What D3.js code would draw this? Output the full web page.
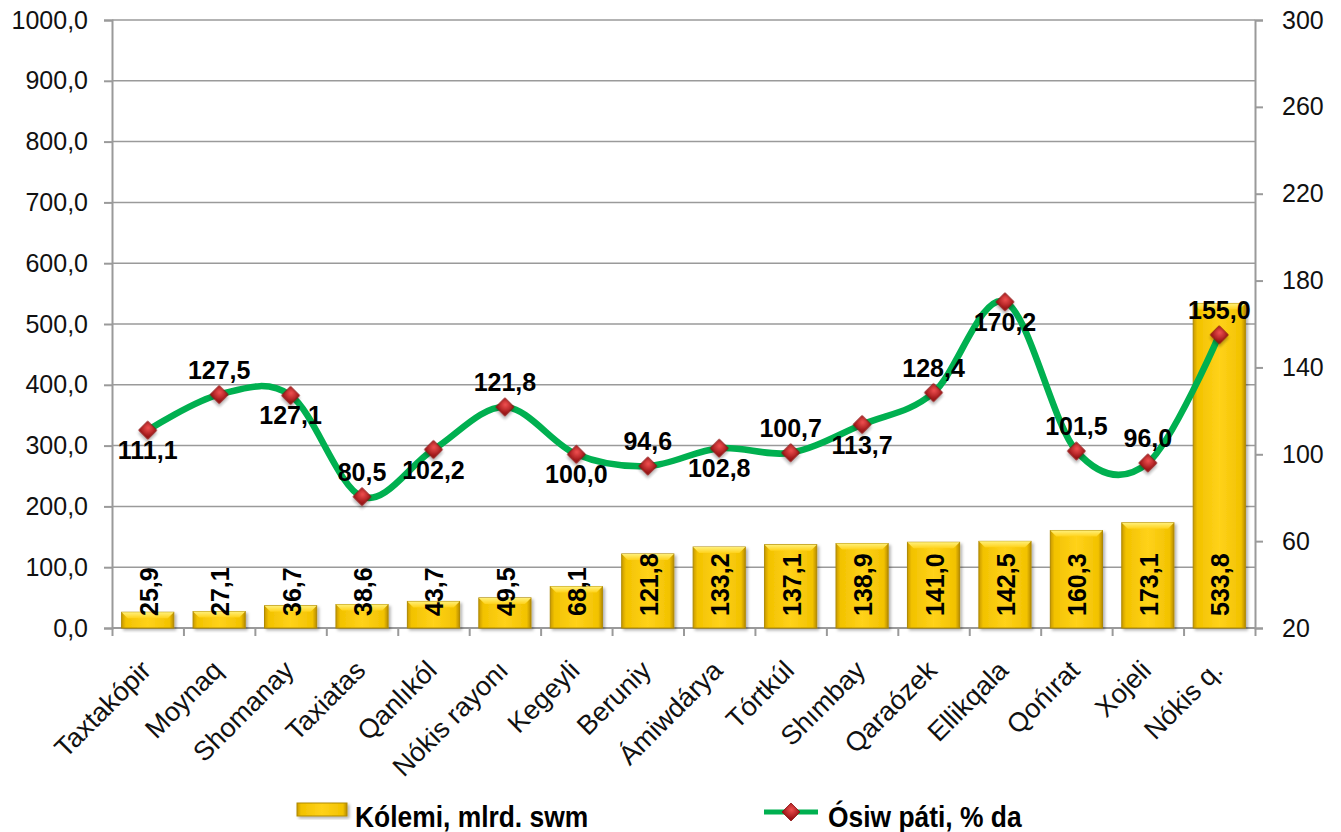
<!DOCTYPE html>
<html>
<head>
<meta charset="utf-8">
<script src="https://cdn.jsdelivr.net/npm/d3@7"></script>
<style>
  body { margin: 0; background: #fff; }
  svg { font-family: "Liberation Sans", Arial, sans-serif; }
</style>
</head>
<body>
<svg width="1341" height="832"></svg>
<script>
var categories = ["Taxtakópir", "Moynaq", "Shomanay", "Taxiatas", "Qanlıkól", "Nókis rayonı", "Kegeyli", "Beruniy",
                  "Ámiwdárya", "Tórtkúl", "Shımbay", "Qaraózek", "Ellikqala", "Qońırat", "Xojeli", "Nókis q."];
var volume = [25.9, 27.1, 36.7, 38.6, 43.7, 49.5, 68.1, 121.8, 133.2, 137.1, 138.9, 141.0, 142.5, 160.3, 173.1, 533.8];
var growth = [111.1, 127.5, 127.1, 80.5, 102.2, 121.8, 100.0, 94.6, 102.8, 100.7, 113.7, 128.4, 170.2, 101.5, 96.0, 155.0];
var growthLabelSide = ["below", "above", "below", "above", "below", "above", "below", "above",
                       "below", "above", "below", "above", "below", "above", "above", "above"];
var leftTicks = [0, 100, 200, 300, 400, 500, 600, 700, 800, 900, 1000];
var rightTicks = [20, 60, 100, 140, 180, 220, 260, 300];
var legendNames = ["Kólemi, mlrd. swm", "Ósiw páti, % da"];

var svg = d3.select("svg");
var plotL = 112, plotR = 1255, plotT = 20, plotB = 628;
var fmt = function(v) { return d3.format(".1f")(v).replace(".", ","); };

var x = d3.scaleBand().domain(categories).range([plotL, plotR]).paddingInner(0.27).paddingOuter(0.135);
var xEdges = d3.scaleLinear().domain([0, categories.length]).range([plotL, plotR]);
var yL = d3.scaleLinear().domain([0, 1000]).range([plotB, plotT]);
var yR = d3.scaleLinear().domain([20, 300]).range([plotB, plotT]);

var defs = svg.append("defs");
var bg = defs.append("linearGradient").attr("id", "barGrad").attr("x1", 0).attr("x2", 1).attr("y1", 0).attr("y2", 0);
bg.append("stop").attr("offset", "0%").attr("stop-color", "#C99A00");
bg.append("stop").attr("offset", "8%").attr("stop-color", "#F2C200");
bg.append("stop").attr("offset", "50%").attr("stop-color", "#FFD21A");
bg.append("stop").attr("offset", "92%").attr("stop-color", "#F2C200");
bg.append("stop").attr("offset", "100%").attr("stop-color", "#B88C00");
var tg = defs.append("linearGradient").attr("id", "topGrad").attr("x1", 0).attr("x2", 0).attr("y1", 0).attr("y2", 1);
tg.append("stop").attr("offset", "0%").attr("stop-color", "#FFF07A");
tg.append("stop").attr("offset", "100%").attr("stop-color", "#FFD21A");
var mg = defs.append("radialGradient").attr("id", "mkGrad").attr("cx", "40%").attr("cy", "35%").attr("r", "70%");
mg.append("stop").attr("offset", "0%").attr("stop-color", "#F05050");
mg.append("stop").attr("offset", "100%").attr("stop-color", "#9A1416");
var sh = defs.append("filter").attr("id", "shadow").attr("x", "-20%").attr("y", "-20%").attr("width", "150%").attr("height", "150%");
sh.append("feDropShadow").attr("dx", 2).attr("dy", 2).attr("stdDeviation", 1.5).attr("flood-color", "#000").attr("flood-opacity", 0.3);

// gridlines
svg.append("g").selectAll("line").data(leftTicks.slice(1)).join("line")
    .attr("x1", plotL).attr("x2", plotR)
    .attr("y1", function(d) { return yL(d); }).attr("y2", function(d) { return yL(d); })
    .attr("stroke", "#9a9a9a").attr("stroke-width", 1.5);

// axes
var gl = svg.append("g").attr("transform", "translate(" + plotL + ",0)")
    .call(d3.axisLeft(yL).tickValues(leftTicks).tickFormat(fmt).tickSize(8).tickPadding(16));
var gr = svg.append("g").attr("transform", "translate(" + plotR + ",0)")
    .call(d3.axisRight(yR).tickValues(rightTicks).tickSize(8).tickPadding(19));
var gb = svg.append("g").attr("transform", "translate(0," + plotB + ")")
    .call(d3.axisBottom(xEdges).tickValues(d3.range(categories.length + 1)).tickFormat("").tickSize(8));
[gl, gr, gb].forEach(function(g) {
  g.selectAll(".domain").attr("stroke", "#9a9a9a").attr("stroke-width", 2);
  g.selectAll(".tick line").attr("stroke", "#9a9a9a").attr("stroke-width", 2);
  g.selectAll("text").attr("font-size", 25).attr("fill", "#111").attr("font-family", "Liberation Sans, Arial, sans-serif");
});
gb.select(".domain").attr("d", "M" + plotL + ",0H" + plotR);

// category labels
svg.append("g").selectAll("text").data(categories).join("text")
    .attr("transform", function(d) { return "translate(" + (x(d) + x.bandwidth() / 2 + 5) + "," + (plotB + 44) + ") rotate(-45)"; })
    .attr("text-anchor", "end")
    .attr("font-size", 27).attr("fill", "#111")
    .text(function(d) { return d; });

// bars
var bars = svg.append("g").selectAll("g").data(volume).join("g").attr("filter", "url(#shadow)");
bars.append("rect")
    .attr("x", function(d, i) { return x(categories[i]); })
    .attr("y", function(d) { return yL(d); })
    .attr("width", x.bandwidth())
    .attr("height", function(d) { return plotB - yL(d); })
    .attr("fill", "url(#barGrad)")
    .attr("stroke", "#B08A00").attr("stroke-width", 1);
bars.append("path")
    .attr("d", function(d, i) {
      var x0 = x(categories[i]), w = x.bandwidth(), y0 = yL(d), b = 6;
      return "M" + x0 + "," + y0 + "H" + (x0 + w) + "L" + (x0 + w - b) + "," + (y0 + b) + "H" + (x0 + b) + "Z";
    })
    .attr("fill", "url(#topGrad)");

// bar labels
svg.append("g").selectAll("text").data(volume).join("text")
    .attr("transform", function(d, i) { return "translate(" + (x(categories[i]) + x.bandwidth() / 2 + 10) + "," + (plotB - 12) + ") rotate(-90)"; })
    .attr("text-anchor", "start")
    .attr("font-size", 25).attr("font-weight", "bold").attr("fill", "#000")
    .text(function(d) { return fmt(d); });

// growth line
var cx = function(i) { return x(categories[i]) + x.bandwidth() / 2; };
var line = d3.line()
    .x(function(d, i) { return cx(i); })
    .y(function(d) { return yR(d); })
    .curve(d3.curveCardinal.tension(0));
svg.append("path").datum(growth)
    .attr("d", line)
    .attr("fill", "none")
    .attr("stroke", "#00B050").attr("stroke-width", 6.5)
    .attr("stroke-linejoin", "round").attr("stroke-linecap", "round");

var diamond = d3.symbol().type(d3.symbolSquare).size(160);
svg.append("g").selectAll("path").data(growth).join("path")
    .attr("transform", function(d, i) { return "translate(" + cx(i) + "," + yR(d) + ") rotate(45)"; })
    .attr("d", diamond)
    .attr("fill", "url(#mkGrad)")
    .attr("stroke", "#8B1010").attr("stroke-width", 0.8)
    .attr("filter", "url(#shadow)");

svg.append("g").selectAll("text").data(growth).join("text")
    .attr("x", function(d, i) { return cx(i); })
    .attr("y", function(d, i) { return yR(d) + (growthLabelSide[i] === "above" ? -16 : 29); })
    .attr("text-anchor", "middle")
    .attr("font-size", 25).attr("font-weight", "bold").attr("fill", "#000")
    .text(function(d) { return fmt(d); });

// legend
var lg = svg.append("g").attr("font-weight", "bold").attr("font-size", 30);
lg.append("rect").attr("x", 297).attr("y", 803).attr("width", 50).attr("height", 13)
    .attr("fill", "url(#barGrad)").attr("stroke", "#B08A00").attr("filter", "url(#shadow)");
lg.append("text").attr("transform", "translate(355,827) scale(0.88,1)").text(legendNames[0]);
lg.append("line").attr("x1", 764).attr("x2", 818).attr("y1", 812).attr("y2", 812)
    .attr("stroke", "#00B050").attr("stroke-width", 5);
lg.append("path").attr("transform", "translate(791,812) rotate(45)").attr("d", diamond)
    .attr("fill", "url(#mkGrad)").attr("stroke", "#8B1010").attr("stroke-width", 0.8);
lg.append("text").attr("transform", "translate(828,827) scale(0.88,1)").text(legendNames[1]);
</script>
</body>
</html>
